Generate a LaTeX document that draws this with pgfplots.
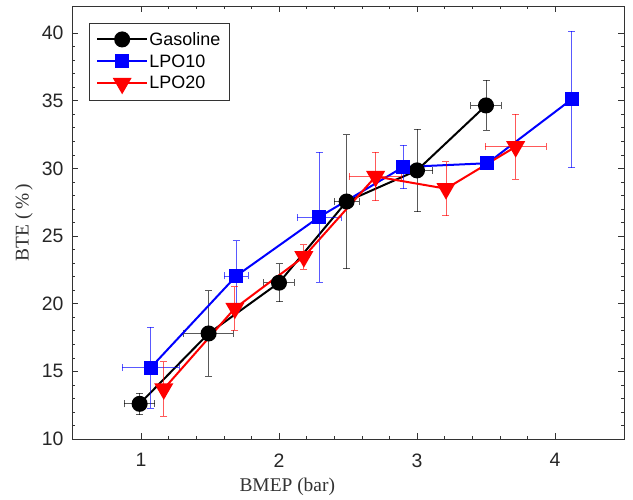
\documentclass[border=0pt]{standalone}
\usepackage{fontspec}
\setmainfont{Liberation Serif}
\setsansfont{Liberation Sans}
\usepackage{pgfplots}
\pgfplotsset{compat=1.18}
\usepackage{pgfplotstable}

\pgfplotstableread{
x y ex ey
0.99 12.6 0.11 0.8
1.49 17.8 0.18 3.15
2.00 21.55 0.11 1.4
2.49 27.55 0.09 4.95
3.00 29.85 0.115 3.05
3.50 34.65 0.11 1.85
}\gasoline
\pgfplotstableread{
x y ex ey
1.07 15.27 0.205 3.0
1.69 22.05 0.085 2.6
2.29 26.4 0.16 4.8
2.90 30.1 0.04 1.6
3.51 30.38 0.0 0.0
4.12 35.1 0.03 5.05
}\lpoten
\pgfplotstableread{
x y ex ey
1.165 13.7 0.0 2.0
1.68 19.66 0.0 1.6
2.18 23.47 0.0 0.9
2.70 29.4 0.19 1.8
3.21 28.5 0.0 2.0
3.715 31.6 0.22 2.4
}\lpotwenty

\newcommand{\legfont}{\sffamily\fontsize{18}{20}\selectfont}
\begin{document}
\begin{tikzpicture}
\begin{axis}[
  scale only axis,
  width=552bp, height=433bp,
  xmin=0.5, xmax=4.5, ymin=10, ymax=42,
  xtick={1,2,3,4}, ytick={10,15,20,25,30,35,40},
  minor x tick num=4, minor y tick num=4,
  major tick length=6bp, minor tick length=3bp,
  tick align=inside,
  axis line style={black!80, line width=0.6bp},
  tick style={black!80, line width=0.6bp},
  /pgf/number format/assume math mode=true,
  ticklabel style={font=\sffamily\fontsize{19.5}{21}\selectfont, text=black!85},
  xticklabel style={yshift=-11bp},
  yticklabel style={xshift=-5bp},
  xlabel={BMEP (bar)}, ylabel={BTE (\,\%\,)},
  label style={font=\rmfamily\fontsize{19.5}{21}\selectfont, text=black!80},
  xlabel style={at={(axis description cs:0.39,-0.11)}, anchor=center},
  ylabel style={at={(axis description cs:-0.087,0.5)}, anchor=center},
  legend style={at={(0.03,0.961)}, anchor=north west, font=\legfont,
    nodes={inner sep=1.5bp},
    draw=black!80, line width=0.6bp, inner sep=7.5bp, row sep=4.8bp, column sep=0bp},
  legend cell align=left,
  legend image code/.code={\draw[mark repeat=2,mark phase=2] plot coordinates {(0cm,0cm) (0.875cm,0cm) (1.75cm,0cm)};},
  error bars/error bar style={line width=0.8bp, opacity=0.65},
  error bars/error mark options={rotate=90, line width=0.8bp, mark size=3.5bp},
]
\addplot[black, line width=2bp, mark=*, mark size=7bp, mark options={solid, fill=black},
  error bars/.cd, x dir=both, x explicit, y dir=both, y explicit]
  table[x=x, y=y, x error=ex, y error=ey] {\gasoline};
\addlegendentry{\legfont Gasoline}
\addplot[blue, line width=2bp, mark=square*, mark size=6bp, mark options={solid, fill=blue},
  error bars/.cd, x dir=both, x explicit, y dir=both, y explicit]
  table[x=x, y=y, x error=ex, y error=ey] {\lpoten};
\addlegendentry{\legfont LPO10}
\addplot[red, line width=2bp, mark=triangle*, mark size=9bp, mark options={solid, fill=red, rotate=180},
  error bars/.cd, x dir=both, x explicit, y dir=both, y explicit]
  table[x=x, y=y, x error=ex, y error=ey] {\lpotwenty};
\addlegendentry{\legfont LPO20}
\end{axis}
\path ([xshift=-72bp,yshift=-60bp]current axis.south west) rectangle ([xshift=9bp,yshift=6bp]current axis.north east);
\end{tikzpicture}
\end{document}
